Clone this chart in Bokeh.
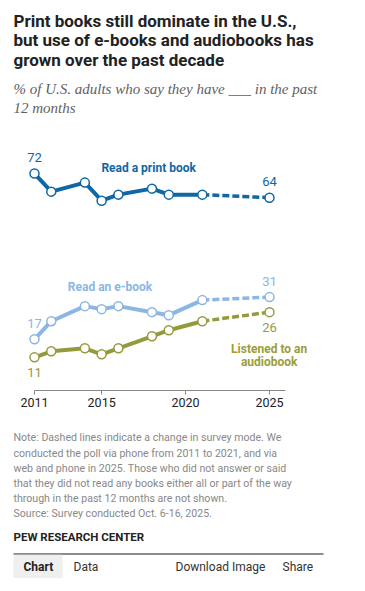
from bokeh.plotting import figure
from bokeh.models import Label, FixedTicker, BoxAnnotation
from bokeh.layouts import column
from bokeh.embed import file_html
from bokeh.resources import INLINE

years = [2011, 2012, 2014, 2015, 2016, 2018, 2019, 2021, 2025]
print_book = [72, 66, 69, 63, 65, 67, 65, 65, 64]
ebook = [17, 23, 28, 27, 28, 26, 25, 30, 31]
audiobook = [11, 13, 14, 12, 14, 18, 20, 23, 26]
tick_years = [2011, 2015, 2020, 2025]

title_lines = ["Print books still dominate in the U.S.,",
               "but use of e-books and audiobooks has",
               "grown over the past decade"]
subtitle_lines = ["% of U.S. adults who say they have ___ in the past",
                  "12 months"]
note_lines = ["Note: Dashed lines indicate a change in survey mode. We",
              "conducted the poll via phone from 2011 to 2021, and via",
              "web and phone in 2025. Those who did not answer or said",
              "that they did not read any books either all or part of the way",
              "through in the past 12 months are not shown.",
              "Source: Survey conducted Oct. 6-16, 2025."]
tabs = ["Chart", "Data", "Download Image", "Share"]

C_PRINT = "#0f67a3"
C_EBOOK = "#8cb6e4"
C_AUDIO = "#959b3c"
C_AUDIO_TXT = "#9b9d38"

SANS = "Roboto"

# ---------- main chart figure (frame = page y 0..390) ----------
FB = 390
p = figure(width=365, height=415, output_backend="svg", toolbar_location=None,
           x_range=(2008.9745, 2030.719), y_range=(0, 129.44),
           min_border_left=0, min_border_right=0, min_border_top=0,
           min_border_bottom=25)
p.outline_line_color = None
p.grid.visible = False
p.yaxis.visible = False

ax = p.xaxis[0]
ax.ticker = FixedTicker(ticks=tick_years)
ax.bounds = (2011, 2025.953)
ax.minor_tick_line_color = None
ax.major_tick_in = 0
ax.major_tick_out = 4
ax.axis_line_color = "#888888"
ax.major_tick_line_color = "#888888"
ax.major_label_text_font = SANS
ax.major_label_text_font_size = "12.5px"
ax.major_label_text_color = "#222222"
ax.major_label_standoff = 3

for vals, col in [(print_book, C_PRINT), (ebook, C_EBOOK), (audiobook, C_AUDIO)]:
    p.line(years[:-1], vals[:-1], line_color=col, line_width=4, line_join="round")
    p.line(years[-2:], vals[-2:], line_color=col, line_width=3.5, line_dash="7 3")
    p.scatter(years, vals, size=9, fill_color="white", line_color=col, line_width=1.5)

def data_label(x, y, text, color, yoff, bold=False, size="13px"):
    p.add_layout(Label(x=x, y=y, text=text, text_color=color, text_font=SANS,
                       text_font_size=size, text_align="center", text_baseline="middle",
                       y_offset=yoff, text_font_style="bold" if bold else "normal"))

data_label(years[0], print_book[0], str(print_book[0]), C_PRINT, 16)
data_label(years[-1], print_book[-1], str(print_book[-1]), C_PRINT, 16)
data_label(years[0], ebook[0], str(ebook[0]), C_EBOOK, 16)
data_label(years[-1], ebook[-1], str(ebook[-1]), C_EBOOK, 16)
data_label(years[0], audiobook[0], str(audiobook[0]), C_AUDIO, -15)
data_label(years[-1], audiobook[-1], str(audiobook[-1]), C_AUDIO, -15)

data_label(2017.8, 73.9, "Read a print book", C_PRINT, 0, bold=True, size="12px")
data_label(2015.5, 34.5, "Read an e-book", C_EBOOK, 0, bold=True, size="12px")
data_label(2024.98, 13.9, "Listened to an", C_AUDIO_TXT, 0, bold=True, size="12px")
data_label(2024.98, 9.6, "audiobook", C_AUDIO_TXT, 0, bold=True, size="12px")

def slabel(fig, bottom, px, py, text, color, size, font=SANS, style="normal"):
    fig.add_layout(Label(x=px, y=bottom - py, x_units="screen", y_units="screen",
                         text=text, text_color=color, text_font=font, text_font_size=size,
                         text_font_style=style, text_baseline="middle", text_align="left"))

for i, t in enumerate(title_lines):
    slabel(p, FB, 13, 20 + i * 19.7, t, "#222222", "17px", style="bold")
for i, t in enumerate(subtitle_lines):
    slabel(p, FB, 13, 88 + i * 19, t, "#5f5f5f", "15px", font="Liberation Serif", style="italic")

# ---------- footer figure (page y 415..591) ----------
TOP2 = 415
H2 = 176
f = figure(width=365, height=H2, output_backend="svg", toolbar_location=None,
           x_range=(0, 365), y_range=(0, H2), x_axis_type=None, y_axis_type=None,
           min_border_left=0, min_border_right=0, min_border_top=0, min_border_bottom=0)
f.outline_line_color = None
f.grid.visible = False
FB2 = TOP2 + H2

for i, t in enumerate(note_lines):
    slabel(f, FB2, 13, 437.3 + i * 15.2, t, "#888888", "10.6px")
slabel(f, FB2, 13, 536.7, "PEW RESEARCH CENTER", "#222222", "11.5px", style="bold")

f.add_layout(BoxAnnotation(left=13, right=323, top=FB2 - 552.8, bottom=FB2 - 554.2,
                           left_units="screen", right_units="screen", top_units="screen",
                           bottom_units="screen", fill_color="#666666", fill_alpha=1,
                           line_color=None))
f.add_layout(BoxAnnotation(left=13, right=62, top=FB2 - 554.2, bottom=FB2 - 577.5,
                           left_units="screen", right_units="screen", top_units="screen",
                           bottom_units="screen", fill_color="#efefef", fill_alpha=1,
                           line_color=None))
tab_x = [23, 73, 175, 282]
for i, t in enumerate(tabs):
    slabel(f, FB2, tab_x[i], 566, t, "#222222" if i == 0 else "#333333", "12px",
           style="bold" if i == 0 else "normal")

open("out.html", "w").write(file_html(column(p, f, spacing=0), INLINE))
